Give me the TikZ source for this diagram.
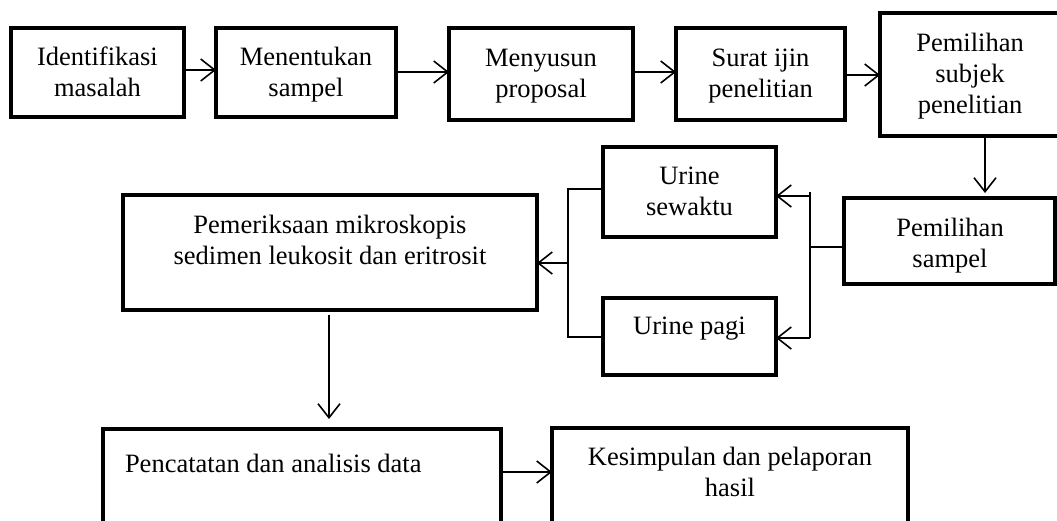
\documentclass[tikz,border=0pt]{standalone}
\usepackage{fontspec}
\setmainfont{Liberation Serif}
\usetikzlibrary{arrows.meta}
\newcommand\mlines[1]{\begin{tabular}[t]{@{}c@{}}#1\end{tabular}}
\begin{document}
\begin{tikzpicture}[x=1pt,y=-1pt,
  box/.style={draw=black,line width=4.5pt,rectangle,inner sep=0pt,outer sep=0pt,anchor=north west},
  txt/.style={inner sep=0pt,outer sep=0pt,anchor=base,font=\fontsize{26.5}{31}\selectfont},
  conn/.style={draw=black,line width=1.6pt},
  arr/.style={conn,-{Straight Barb[length=14pt,width=22pt]}}]
\useasboundingbox (0,0) rectangle (1057,520);
\clip (0,0) rectangle (1057,520);
% boxes
\node[box,minimum width=173pt,minimum height=89pt] (ident) at (11,28) {};
\node[box,minimum width=180pt,minimum height=89pt] (ment) at (216,28) {};
\node[box,minimum width=184pt,minimum height=92pt] (meny) at (449,28) {};
\node[box,minimum width=169pt,minimum height=92pt] (surat) at (676,28) {};
\node[box,minimum width=192pt,minimum height=123pt] (psub) at (880,13) {};
\node[box,minimum width=211pt,minimum height=86pt] (psam) at (844,198) {};
\node[box,minimum width=173pt,minimum height=90pt] (usew) at (603,147) {};
\node[box,minimum width=173pt,minimum height=77pt] (upagi) at (603,298) {};
\node[box,minimum width=414pt,minimum height=115pt] (pem) at (123,195) {};
\node[box,minimum width=398pt,minimum height=111pt] (penc) at (103,429) {};
\node[box,minimum width=356pt,minimum height=112pt] (kes) at (552,428) {};
% texts
\node[txt] (tident) at (97.5,65) {\mlines{Identifikasi\\masalah}};
\node[txt] (tment) at (306,65) {\mlines{Menentukan\\sampel}};
\node[txt] (tmeny) at (541,66) {\mlines{Menyusun\\proposal}};
\node[txt] (tsurat) at (760.5,66) {\mlines{Surat ijin\\penelitian}};
\node[txt] (tpsub) at (970,51) {\mlines{Pemilihan\\subjek\\penelitian}};
\node[txt] (tpsam) at (950,236) {\mlines{Pemilihan\\sampel}};
\node[txt] (tusew) at (689.5,184) {\mlines{Urine\\sewaktu}};
\node[txt] (tupagi) at (689.5,334) {Urine pagi};
\node[txt] (tpem) at (330,233) {\mlines{Pemeriksaan mikroskopis\\sedimen leukosit dan eritrosit}};
\node[txt,anchor=base west] (tpenc) at (125,472) {Pencatatan dan analisis data};
\node[txt] (tkes) at (730,465) {\mlines{Kesimpulan dan pelaporan\\hasil}};
% junction coordinates
\coordinate (splitT) at (810,192);
\coordinate (splitB) at (810,338);
\coordinate (mergeT) at (568,189);
\coordinate (mergeB) at (568,337);
% top row arrows
\draw[arr] (ident.east |- 0,70) -- (ment.west |- 0,70);
\draw[arr] (ment.east |- 0,72) -- (meny.west |- 0,72);
\draw[arr] (meny.east |- 0,72) -- (surat.west |- 0,72);
\draw[arr] (surat.east |- 0,75) -- (psub.west |- 0,75);
\draw[arr,shorten >=5pt] (psub.south -| 985,0) -- (psam.north -| 985,0);
% split
\draw[conn] (psam.west |- 0,247) -- (splitT |- 0,247);
\draw[conn] (splitT) -- (splitB);
\draw[arr] (splitT |- 0,196) -- (usew.east |- 0,196);
\draw[arr] (splitB) -- (upagi.east |- splitB);
% merge
\draw[conn] (usew.west |- mergeT) -- (mergeT) -- (mergeB) -- (upagi.west |- mergeB);
\draw[arr] (mergeT |- 0,263) -- (pem.east |- 0,263);
% down and last
\draw[arr,shorten <=5pt,shorten >=10pt] (pem.south -| 329,0) -- (penc.north -| 329,0);
\draw[arr] (penc.east |- 0,472) -- (kes.west |- 0,472);
\end{tikzpicture}
\end{document}
